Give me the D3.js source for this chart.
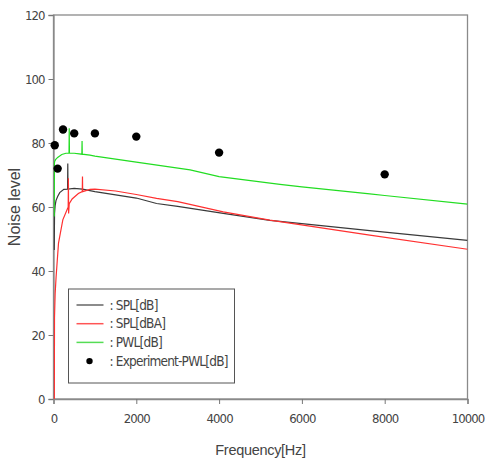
<!DOCTYPE html>
<html>
<head>
<meta charset="utf-8">
<script src="https://cdn.jsdelivr.net/npm/d3@7"></script>
<style>
  body { margin: 0; background: #fff; }
  svg text { font-family: "DejaVu Sans Condensed", "DejaVu Sans", sans-serif; font-stretch: condensed; fill: #444; }
</style>
</head>
<body>
<div id="chart"></div>
<script>
// values
const xTicks = [0, 2000, 4000, 6000, 8000, 10000];
const yTicks = [0, 20, 40, 60, 80, 100, 120];

const splFreq = [18, 20, 25, 40, 60, 100, 150, 250, 340, 345, 350, 500, 700, 880, 1000, 1500, 2000, 2490, 3000, 4100, 5225, 5470, 7640, 10000];
const splDb   = [46.6, 50, 58, 60.5, 62, 63.3, 64.5, 65.5, 65.6, 73.6, 65.6, 65.8, 65.6, 65.1, 64.8, 63.8, 62.8, 61.1, 60.2, 58, 55.8, 55.5, 52.6, 49.6];

const splaFreq = [20, 24, 40, 63, 121, 225, 340, 355, 360, 365, 380, 450, 600, 695, 700, 705, 880, 1000, 1500, 2000, 2490, 3000, 4100, 5225, 7640, 10000];
const splaDb   = [0, 25.3, 33, 38.2, 48.7, 56, 59.5, 60, 69, 58, 61, 62.5, 64.2, 64.8, 69.5, 64.8, 65.5, 65.6, 65, 63.9, 62.7, 61.7, 58.5, 55.9, 51.2, 46.8];

const pwlFreq = [18, 22, 30, 50, 100, 200, 300, 375, 380, 385, 500, 685, 690, 695, 880, 1000, 2000, 3300, 4000, 5470, 6000, 7640, 8000, 10000];
const pwlDb   = [57, 73.7, 74.3, 74.8, 75.5, 76.4, 76.8, 76.8, 84.6, 76.8, 76.8, 76.5, 80.6, 76.5, 76.2, 75.9, 74, 71.6, 69.5, 67.1, 66.3, 64.1, 63.6, 60.9];

const expFreq = [30, 100, 230, 500, 1000, 2000, 4000, 8000];
const expDb   = [79.3, 72, 84.2, 83, 83, 82, 77, 70.2];

const legendLabels = [": SPL[dB]", ": SPL[dBA]", ": PWL[dB]", ": Experiment-PWL[dB]"];

const W = 485, H = 462;
const margin = {top: 15, right: 17.5, bottom: 63, left: 53.5};
const width = W - margin.left - margin.right;
const height = H - margin.top - margin.bottom;

const svg = d3.select("#chart").append("svg")
    .attr("width", W)
    .attr("height", H);

const g = svg.append("g")
    .attr("transform", `translate(${margin.left},${margin.top})`);

const x = d3.scaleLinear().domain([0, 10000]).range([0, width]);
const y = d3.scaleLinear().domain([0, 120]).range([height, 0]);

// frame
g.append("rect")
    .attr("x", 0).attr("y", 0)
    .attr("width", width).attr("height", height)
    .attr("fill", "none")
    .attr("stroke", "#8a8a8a")
    .attr("stroke-width", 1.3);

// axes
let xAxis = g.append("g")
    .attr("transform", `translate(0,${height})`)
    .call(d3.axisBottom(x).tickValues(xTicks).tickSize(5).tickPadding(10).tickFormat(d3.format("d")));
let yAxis = g.append("g")
    .call(d3.axisLeft(y).tickValues(yTicks).tickSize(5).tickPadding(4).tickFormat(d3.format("d")));

[xAxis, yAxis].forEach(function (a) {
    a.select(".domain").attr("stroke", "#8a8a8a").attr("stroke-width", 1.3);
    a.selectAll(".tick line").attr("stroke", "#777");
    a.selectAll(".tick text")
        .style("font-family", "'DejaVu Sans Condensed', 'DejaVu Sans', sans-serif")
        .style("font-size", "13px").attr("fill", "#444").style("letter-spacing", "-0.9px");
});

// axis titles
svg.append("text")
    .attr("x", margin.left + width / 2)
    .attr("y", 455)
    .attr("text-anchor", "middle")
    .style("font-family", "'Liberation Sans', sans-serif")
    .style("font-size", "14.5px")
    .style("letter-spacing", "-0.3px")
    .attr("fill", "#555")
    .text("Frequency[Hz]");

svg.append("text")
    .attr("transform", `translate(20,${margin.top + height / 2}) rotate(-90)`)
    .attr("text-anchor", "middle")
    .style("font-family", "'Liberation Sans', sans-serif")
    .style("font-size", "16px")
    .attr("fill", "#555")
    .text("Noise level");

// clip to plot area
svg.append("clipPath").attr("id", "clip")
    .append("rect").attr("width", width).attr("height", height);

const plot = g.append("g").attr("clip-path", "url(#clip)");

const line = d3.line()
    .x(d => x(d[0]))
    .y(d => y(d[1]));

const series = [
    {f: splFreq, v: splDb, color: "#3a3a3a"},
    {f: splaFreq, v: splaDb, color: "#ff3030"},
    {f: pwlFreq, v: pwlDb, color: "#22dd22"}
];

series.forEach(function (s) {
    plot.append("path")
        .datum(d3.zip(s.f, s.v))
        .attr("fill", "none")
        .attr("stroke", s.color)
        .attr("stroke-width", 1.2)
        .attr("d", line);
});

g.selectAll(".exp")
    .data(d3.zip(expFreq, expDb))
    .enter()
    .append("circle")
    .attr("class", "exp")
    .attr("cx", d => x(d[0]))
    .attr("cy", d => y(d[1]))
    .attr("r", 4.2)
    .attr("fill", "#000");

// legend
const leg = svg.append("g").attr("transform", "translate(68.5,289)");
leg.append("rect")
    .attr("width", 166).attr("height", 94)
    .attr("fill", "#fff")
    .attr("stroke", "#555")
    .attr("stroke-width", 1);

const legColors = ["#666", "#ff5555", "#55dd55", null];
legendLabels.forEach(function (label, i) {
    let ly = 16 + i * 18.7;
    if (legColors[i]) {
        leg.append("line")
            .attr("x1", 8).attr("x2", 35)
            .attr("y1", ly).attr("y2", ly)
            .attr("stroke", legColors[i])
            .attr("stroke-width", 1.5);
    } else {
        leg.append("circle")
            .attr("cx", 21).attr("cy", ly).attr("r", 3.2)
            .attr("fill", "#000");
    }
    leg.append("text")
        .attr("x", 41)
        .attr("y", ly + 4.5)
        .style("font-size", "13.5px")
        .style("letter-spacing", "-0.8px")
        .attr("fill", "#444")
        .text(label);
});
</script>
</body>
</html>
